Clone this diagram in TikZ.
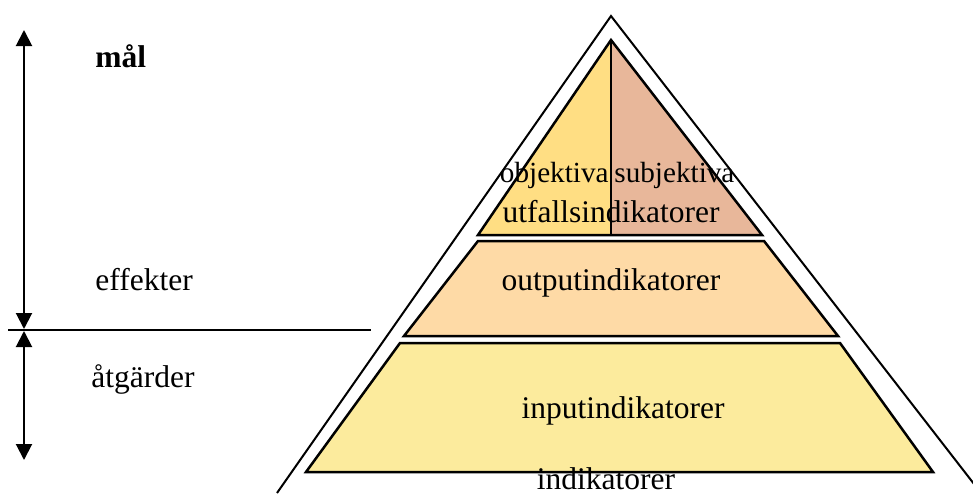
\documentclass[tikz,border=0pt]{standalone}
\usepackage{fontspec}
\setmainfont{Liberation Serif}
\usetikzlibrary{arrows.meta}
\definecolor{objfill}{HTML}{FFDE83}
\definecolor{subjfill}{HTML}{E8B79A}
\definecolor{outfill}{HTML}{FEDAA6}
\definecolor{infill}{HTML}{FCEB9D}
\tikzset{% 
  level label/.style={%
    inner sep=0pt,
    anchor=base,
    font=\fontsize{15.75}{19}\selectfont
  }
}
\tikzset{% 
  band/.style={%
    draw=black,
    line width=1.25pt
  }
}
\tikzset{% 
  span arrow/.style={%
    line width=1pt,
    {Triangle[length=8pt,width=8pt]}-{Triangle[length=8pt,width=8pt]}
  }
}

\begin{document}
\begin{tikzpicture}[x=0.5pt,y=-0.5pt]
  \clip (0,0) rectangle (973,493);
  % outer frame
  \coordinate (apex) at (611,16);
  \draw [line width=1pt] (277,493) -- (apex) -- (981,493);
  % top triangle, split in two
  \coordinate (tip) at (611,40);
  \coordinate (split) at (611,235);
  \fill [objfill] (tip) -- (478,235) -- (split) -- cycle;
  \fill [subjfill] (tip) -- (762,235) -- (split) -- cycle;
  \draw [band] (tip) -- (478,235) -- (762,235) -- cycle;
  \draw [band] (tip) -- (split);
  % lower bands
  \draw [band, fill=outfill] (478,241) -- (764,241) -- (838,336) -- (404,336) -- cycle;
  \draw [band, fill=infill] (400,343) -- (840,343) -- (933,472) -- (306,472) -- cycle;
  % left scale
  \coordinate (top) at (24,30);
  \coordinate (upper) at (24,329);
  \coordinate (lower) at (24,331);
  \coordinate (bottom) at (24,460);
  \coordinate (rule west) at (8,330);
  \coordinate (rule east) at (371,330);
  \draw [line width=1pt] (rule west) -- (rule east);
  \draw [span arrow] (top) -- (upper);
  \draw [span arrow] (lower) -- (bottom);
  \node [level label, anchor=base west, font=\fontsize{15.75}{19}\selectfont\bfseries] (mal) at (95,67) {mål};
  \node [level label, anchor=base west] (effekter) at (95,290) {effekter};
  \node [level label, anchor=base west] (atgarder) at (91,387) {åtgärder};
  % pyramid labels
  \node [level label, anchor=base east, font=\fontsize{14.6}{18}\selectfont] (obj) at (609,182) {objektiva};
  \node [level label, anchor=base west, font=\fontsize{14.6}{18}\selectfont] (subj) at (614,182) {subjektiva};
  \node [level label] (utfall) at (611,222) {utfallsindikatorer};
  \node [level label] (output) at (611,290) {outputindikatorer};
  \node [level label] (input) at (623,418) {inputindikatorer};
  \node [level label] (ind) at (606,489) {indikatorer};
\end{tikzpicture}
\end{document}
